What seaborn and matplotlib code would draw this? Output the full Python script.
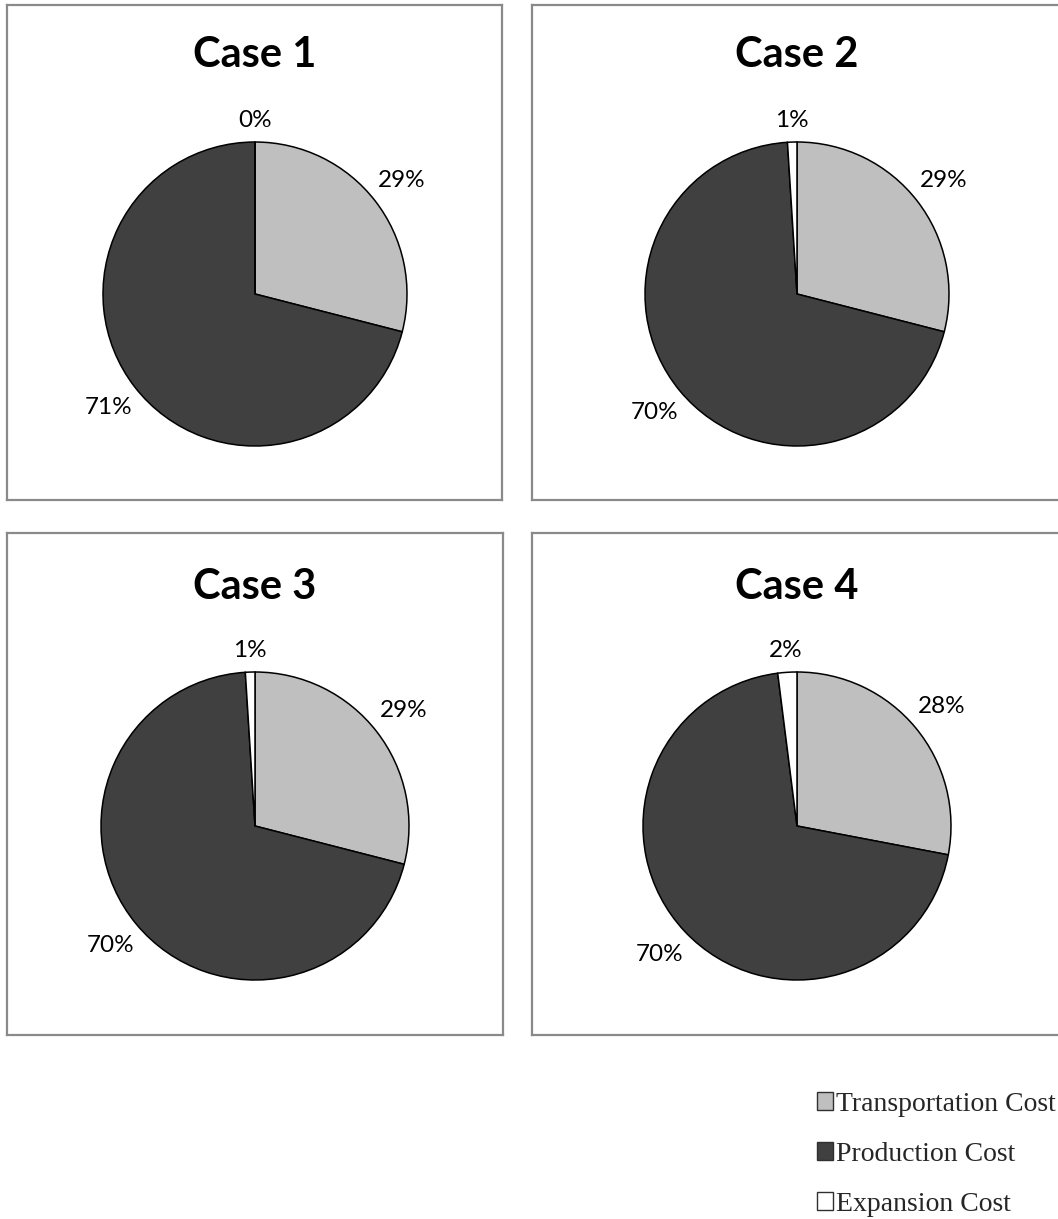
import matplotlib
matplotlib.use("Agg")
import matplotlib.pyplot as plt
from matplotlib.patches import Patch
import seaborn as sns

# Cost shares (%) per case
cases = ["Case 1", "Case 2", "Case 3", "Case 4"]
cost_types = ["Transportation Cost", "Production Cost", "Expansion Cost"]
transportation = [29, 29, 29, 28]
production = [71, 70, 70, 70]
expansion = [0, 1, 1, 2]

sns.set_theme(style="white")
colors = ["#bfbfbf", "#404040", "#ffffff"]

W, H = 1058, 1219
fig = plt.figure(figsize=(W / 100, H / 100), dpi=100)
fig.patch.set_facecolor("white")


def px_rect(x0, y0, x1, y1):
    """Pixel box (top-left origin) -> figure fraction rect."""
    return [x0 / W, 1 - y1 / H, (x1 - x0) / W, (y1 - y0) / H]


# panel frames, pie centres/radii and title positions (pixels)
frames = [(7, 5, 502, 500), (532, 5, 1070, 500),
          (7, 533, 503, 1035), (532, 533, 1070, 1035)]
centres = [(255, 294, 152), (797, 294, 152), (255, 826, 154), (797, 826, 154)]
title_y = [55, 55, 587, 587]

label_font = ["Lato", "DejaVu Sans"]
for i, case in enumerate(cases):
    fx = fig.add_axes(px_rect(*frames[i]))
    fx.set_xticks([])
    fx.set_yticks([])
    fx.set_facecolor("white")
    for sp in fx.spines.values():
        sp.set_visible(True)
        sp.set_color("#8a8a8a")
        sp.set_linewidth(1.6)

    cx, cy, r = centres[i]
    k = 1.5
    ax = fig.add_axes(px_rect(cx - k * r, cy - k * r, cx + k * r, cy + k * r))
    ax.set_xlim(-k, k)
    ax.set_ylim(-k, k)
    ax.set_axis_off()
    vals = [transportation[i], production[i], expansion[i]]
    wedges, _, autotexts = ax.pie(
        vals, colors=colors, startangle=90, counterclock=False,
        radius=1.0, autopct=lambda p: f"{round(p):d}%", pctdistance=1.22,
        wedgeprops=dict(edgecolor="black", linewidth=1.1),
        textprops=dict(fontsize=17.5, color="black", family=label_font),
        normalize=True,
    )
    ax.set_xlim(-k, k)
    ax.set_ylim(-k, k)
    # small slice label sits closer to the rim
    tx, ty = autotexts[2].get_position()
    autotexts[2].set_position((tx * 1.14 / 1.22, ty * 1.14 / 1.22))

    fig.text(cx / W, 1 - title_y[i] / H, case, ha="center", va="center",
             fontsize=30, fontweight="bold", family=label_font, color="black")

handles = [Patch(facecolor=c, edgecolor="#303030", linewidth=1.0) for c in colors]
fig.legend(handles, cost_types, loc="lower right",
           bbox_to_anchor=(1078 / W, 1 - 1239 / H), frameon=False,
           prop=dict(family=["Liberation Serif"], size=20),
           handlelength=0.6, handleheight=0.6, handletextpad=0.1,
           labelspacing=0.9, borderpad=0.3)

fig.savefig("out.png", dpi=100, facecolor="white")
